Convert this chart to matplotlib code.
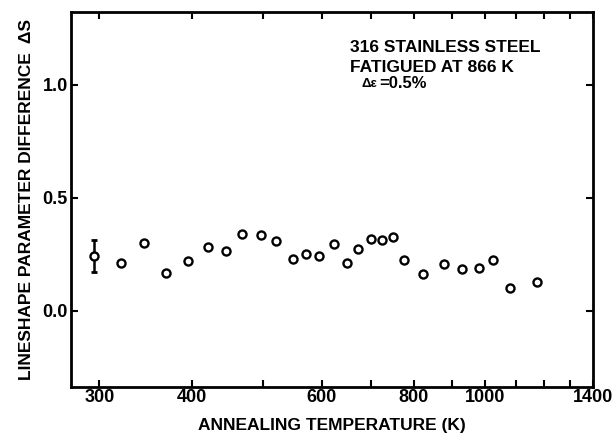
import matplotlib
matplotlib.use("Agg")
import matplotlib.pyplot as plt
from matplotlib.ticker import FixedLocator, FixedFormatter, NullFormatter

# Data
temperature = [295, 321, 345, 369, 395, 421, 445, 468, 496, 521, 549, 571,
               596, 623, 649, 673, 700, 725, 750, 776, 822, 880, 930, 979,
               1023, 1081, 1174]
delta_s = [0.243, 0.214, 0.302, 0.170, 0.221, 0.282, 0.265, 0.341, 0.335,
           0.311, 0.229, 0.252, 0.243, 0.295, 0.211, 0.276, 0.319, 0.314,
           0.326, 0.226, 0.162, 0.207, 0.185, 0.189, 0.226, 0.103, 0.130]
err_temperature = [295]
err_value = [0.243]
err_size = [0.07]

x_major = [300, 400, 600, 800, 1000, 1400]
x_major_labels = ["300", "400", "600", "800", "1000", "1400"]
x_minor = [500, 700, 900, 1100, 1200, 1300]
y_ticks = [0.0, 0.5, 1.0]
y_labels = ["0.0", "0.5", "1.0"]

plt.rcParams['font.family'] = ['Liberation Sans', 'DejaVu Sans']

W, H = 616, 442
fig = plt.figure(figsize=(W / 100, H / 100), dpi=100)
ax = fig.add_axes([0.1148, 0.1251, 0.9632 - 0.1148, 0.9729 - 0.1251])

ax.errorbar(err_temperature, err_value, yerr=err_size, fmt='none',
            ecolor='black', elinewidth=1.8, capsize=2.3, capthick=2, zorder=2)
ax.plot(temperature, delta_s, linestyle='none', marker='o', markersize=5.8,
        markerfacecolor='white', markeredgecolor='black', markeredgewidth=1.7,
        zorder=3)

ax.set_xscale('log')
ax.set_xlim(274.4, 1400)
ax.set_ylim(-0.335, 1.323)

ax.xaxis.set_major_locator(FixedLocator(x_major))
ax.xaxis.set_major_formatter(FixedFormatter(x_major_labels))
ax.xaxis.set_minor_locator(FixedLocator(x_minor))
ax.xaxis.set_minor_formatter(NullFormatter())
ax.set_yticks(y_ticks)
ax.set_yticklabels(y_labels)

ax.tick_params(which='both', direction='in', length=5, width=1.5,
               top=True, right=True, labelsize=13)
ax.tick_params(axis='x', pad=1.5)
ax.tick_params(axis='y', pad=2)
for lbl in ax.get_xticklabels() + ax.get_yticklabels():
    lbl.set_fontweight('bold')

for sp in ax.spines.values():
    sp.set_linewidth(2)

ax.set_xlabel("ANNEALING TEMPERATURE (K)", fontsize=12.5, fontweight='bold',
              labelpad=9)
ax.set_ylabel("LINESHAPE PARAMETER DIFFERENCE  \u0394S", fontsize=12.5,
              fontweight='bold', labelpad=6)


def fig_xy(px, py):
    return px / W, 1 - py / H


fig.text(*fig_xy(350, 48), "316 STAINLESS STEEL", fontsize=12.5,
         fontweight='bold', va='center', ha='left')
fig.text(*fig_xy(350, 67), "FATIGUED AT 866 K", fontsize=12.5,
         fontweight='bold', va='center', ha='left')
fig.text(*fig_xy(362, 84), "\u0394\u03b5", fontsize=9.5,
         fontweight='bold', va='center', ha='left')
fig.text(*fig_xy(379, 83), "=0.5%", fontsize=12,
         fontweight='bold', va='center', ha='left')

fig.savefig("out.png", dpi=100)
